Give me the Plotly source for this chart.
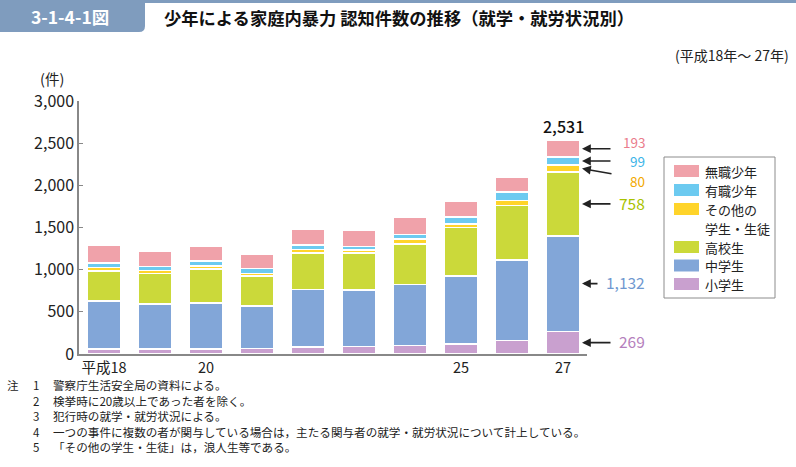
import plotly.graph_objects as go

years = ["平成18", "19", "20", "21", "22", "23", "24", "25", "26", "27"]
tick_labels = ["平成18", "", "20", "", "", "", "", "25", "", "27"]

shogakusei = [62, 60, 60, 67, 83, 87, 103, 119, 162, 269]
chugakusei = [564, 534, 546, 503, 681, 669, 721, 804, 951, 1132]
kokosei = [356, 360, 404, 353, 432, 440, 483, 578, 645, 758]
sonota = [44, 36, 35, 31, 44, 36, 55, 43, 60, 80]
yushoku = [55, 48, 56, 60, 51, 43, 56, 80, 103, 99]
mushoku = [213, 175, 179, 167, 193, 195, 207, 182, 170, 193]

series_names = ["小学生", "中学生", "高校生", "その他の学生・生徒", "有職少年", "無職少年"]
series_vals = [shogakusei, chugakusei, kokosei, sonota, yushoku, mushoku]
colors = ["#c9a0cf", "#82a6d8", "#cbd93a", "#ffd42a", "#6ccaf0", "#f0a2aa"]
label_colors = ["#b57fbd", "#6f98d0", "#a9c200", "#f2a900", "#3db5e8", "#ea7c8c"]

FONT = "Noto Sans CJK JP"
W, H = 796, 467
PL, PR, PT, PB = 79, 587, 101, 354


def px(x):
    return (x - PL) / (PR - PL)


def py(y):
    return (PB - y) / (PB - PT)


xs = list(range(len(years)))
fig = go.Figure()
for name, vals, c in zip(series_names, series_vals, colors):
    fig.add_trace(go.Bar(
        x=xs, y=vals, name=name, marker=dict(color=c, line=dict(color="white", width=1.5)),
        width=0.66, showlegend=False,
    ))

totals = [sum(v[i] for v in series_vals) for i in range(len(years))]
last = len(years) - 1

annotations = []
shapes = []

# total label on last bar
annotations.append(dict(x=last, y=totals[last], xref="x", yref="y", text=f"{totals[last]:,}",
                        showarrow=False, yanchor="bottom", yshift=1,
                        font=dict(family=FONT, size=16, color="#111", weight=500)))

# arrows and value labels for last bar
cum = 0
mids = []
for vals in series_vals:
    v = vals[last]
    mids.append(cum + v / 2)
    cum += v
label_y_px = [341, 282, 203, 181, 160.5, 142]
label_sizes = [15.5, 15.5, 15.5, 13.5, 13.5, 13.5]
tail_px = [612, 599, 612, 613, 612, 612]
for i, vals in enumerate(series_vals):
    v = vals[last]
    mid_px = PB - mids[i] / 3000 * (PB - PT)
    tail_y = 174 if i == 3 else mid_px
    annotations.append(dict(x=px(582), y=py(mid_px), xref="paper", yref="paper",
                            ax=tail_px[i] - 582, ay=tail_y - mid_px, axref="pixel", ayref="pixel",
                            text="", showarrow=True, arrowhead=2, arrowsize=1.1, arrowwidth=1.6,
                            arrowcolor="#222"))
    annotations.append(dict(x=px(646), y=py(label_y_px[i]), xref="paper", yref="paper",
                            text=f"{v:,}", showarrow=False, xanchor="right", yanchor="middle",
                            borderpad=0,
                            font=dict(family=FONT, size=label_sizes[i], color=label_colors[i])))

# custom legend
shapes.append(dict(type="rect", xref="paper", yref="paper", x0=px(664), x1=px(775),
                   y0=py(157), y1=py(298), line=dict(color="#8c8c8c", width=1), fillcolor="white"))
legend_rows = [("無職少年", 171, 5), ("有職少年", 190, 4), ("その他の", 209, 3), ("学生・生徒", 228, None),
               ("高校生", 247, 2), ("中学生", 265.5, 1), ("小学生", 284, 0)]
for text, yc, ci in legend_rows:
    if ci is not None:
        shapes.append(dict(type="rect", xref="paper", yref="paper", x0=px(674), x1=px(699),
                           y0=py(yc + 6), y1=py(yc - 6), line=dict(width=0), fillcolor=colors[ci]))
    annotations.append(dict(x=px(703), y=py(yc), xref="paper", yref="paper", text=text,
                            showarrow=False, xanchor="left", yanchor="middle",
                            font=dict(family=FONT, size=13, color="#222")))

# header
tab_col = "#7f9cbe"
shapes.append(dict(type="rect", xref="paper", yref="paper", x0=px(0), x1=px(W), y0=py(3), y1=py(0),
                   line=dict(width=0), fillcolor=tab_col))
shapes.append(dict(type="path", xref="paper", yref="paper",
                   path=f"M {px(0)},{py(0)} L {px(145)},{py(0)} L {px(145)},{py(26)} "
                        f"Q {px(145)},{py(32)} {px(139)},{py(32)} L {px(0)},{py(32)} Z",
                   line=dict(width=0), fillcolor=tab_col))
annotations.append(dict(x=px(70), y=py(17), xref="paper", yref="paper", text="<b>3-1-4-1図</b>",
                        showarrow=False, xanchor="center", yanchor="middle",
                        font=dict(family=FONT, size=17.5, color="white")))
annotations.append(dict(x=px(162), y=py(18), xref="paper", yref="paper",
                        text="<b>少年による家庭内暴力 認知件数の推移（就学・就労状況別）</b>",
                        showarrow=False, xanchor="left", yanchor="middle",
                        font=dict(family=FONT, size=17.3, color="#111")))
annotations.append(dict(x=px(791), y=py(55), xref="paper", yref="paper", text="(平成18年～ 27年)",
                        showarrow=False, xanchor="right", yanchor="middle",
                        font=dict(family=FONT, size=14, color="#222")))
annotations.append(dict(x=px(52), y=py(78), xref="paper", yref="paper", text="(件)",
                        showarrow=False, xanchor="center", yanchor="middle",
                        font=dict(family=FONT, size=14.5, color="#222")))

notes = [
    ("注", "1", "警察庁生活安全局の資料による。"),
    ("", "2", "検挙時に20歳以上であった者を除く。"),
    ("", "3", "犯行時の就学・就労状況による。"),
    ("", "4", "一つの事件に複数の者が関与している場合は，主たる関与者の就学・就労状況について計上している。"),
    ("", "5", "「その他の学生・生徒」は，浪人生等である。"),
]
for i, (a, n, t) in enumerate(notes):
    yy = 385 + i * 15.6
    if a:
        annotations.append(dict(x=px(5), y=py(yy), xref="paper", yref="paper", text=a, showarrow=False,
                                xanchor="left", yanchor="middle", font=dict(family=FONT, size=11.5, color="#222")))
    annotations.append(dict(x=px(36), y=py(yy), xref="paper", yref="paper", text=n, showarrow=False,
                            xanchor="center", yanchor="middle", font=dict(family=FONT, size=11.5, color="#222")))
    annotations.append(dict(x=px(51), y=py(yy), xref="paper", yref="paper", text=t, showarrow=False,
                            xanchor="left", yanchor="middle", font=dict(family=FONT, size=11.6, color="#222")))

fig.update_layout(
    barmode="stack",
    width=W, height=H,
    margin=dict(l=PL, r=W - PR, t=PT, b=H - PB, autoexpand=False),
    paper_bgcolor="white", plot_bgcolor="white",
    showlegend=False,
    xaxis=dict(range=[-0.49, 9.47], tickmode="array", tickvals=xs, ticktext=tick_labels,
               showline=True, linecolor="#888", linewidth=1.5, showgrid=False, zeroline=False,
               ticks="", tickfont=dict(family=FONT, size=14.5, color="#222"), fixedrange=True),
    yaxis=dict(range=[0, 3000], tickvals=[0, 500, 1000, 1500, 2000, 2500, 3000],
               ticktext=["0", "500", "1,000", "1,500", "2,000", "2,500", "3,000"],
               showline=True, linecolor="#888", linewidth=1.5, showgrid=False, zeroline=False,
               ticks="inside", ticklen=4, tickcolor="#888",
               tickfont=dict(family=FONT, size=16, color="#222"), fixedrange=True),
    annotations=annotations, shapes=shapes,
    bargap=0.34,
)

fig.write_html(
    "out.html",
    config={"displayModeBar": False},
    post_script="document.body.style.margin='0';document.body.style.overflow='hidden';",
)
